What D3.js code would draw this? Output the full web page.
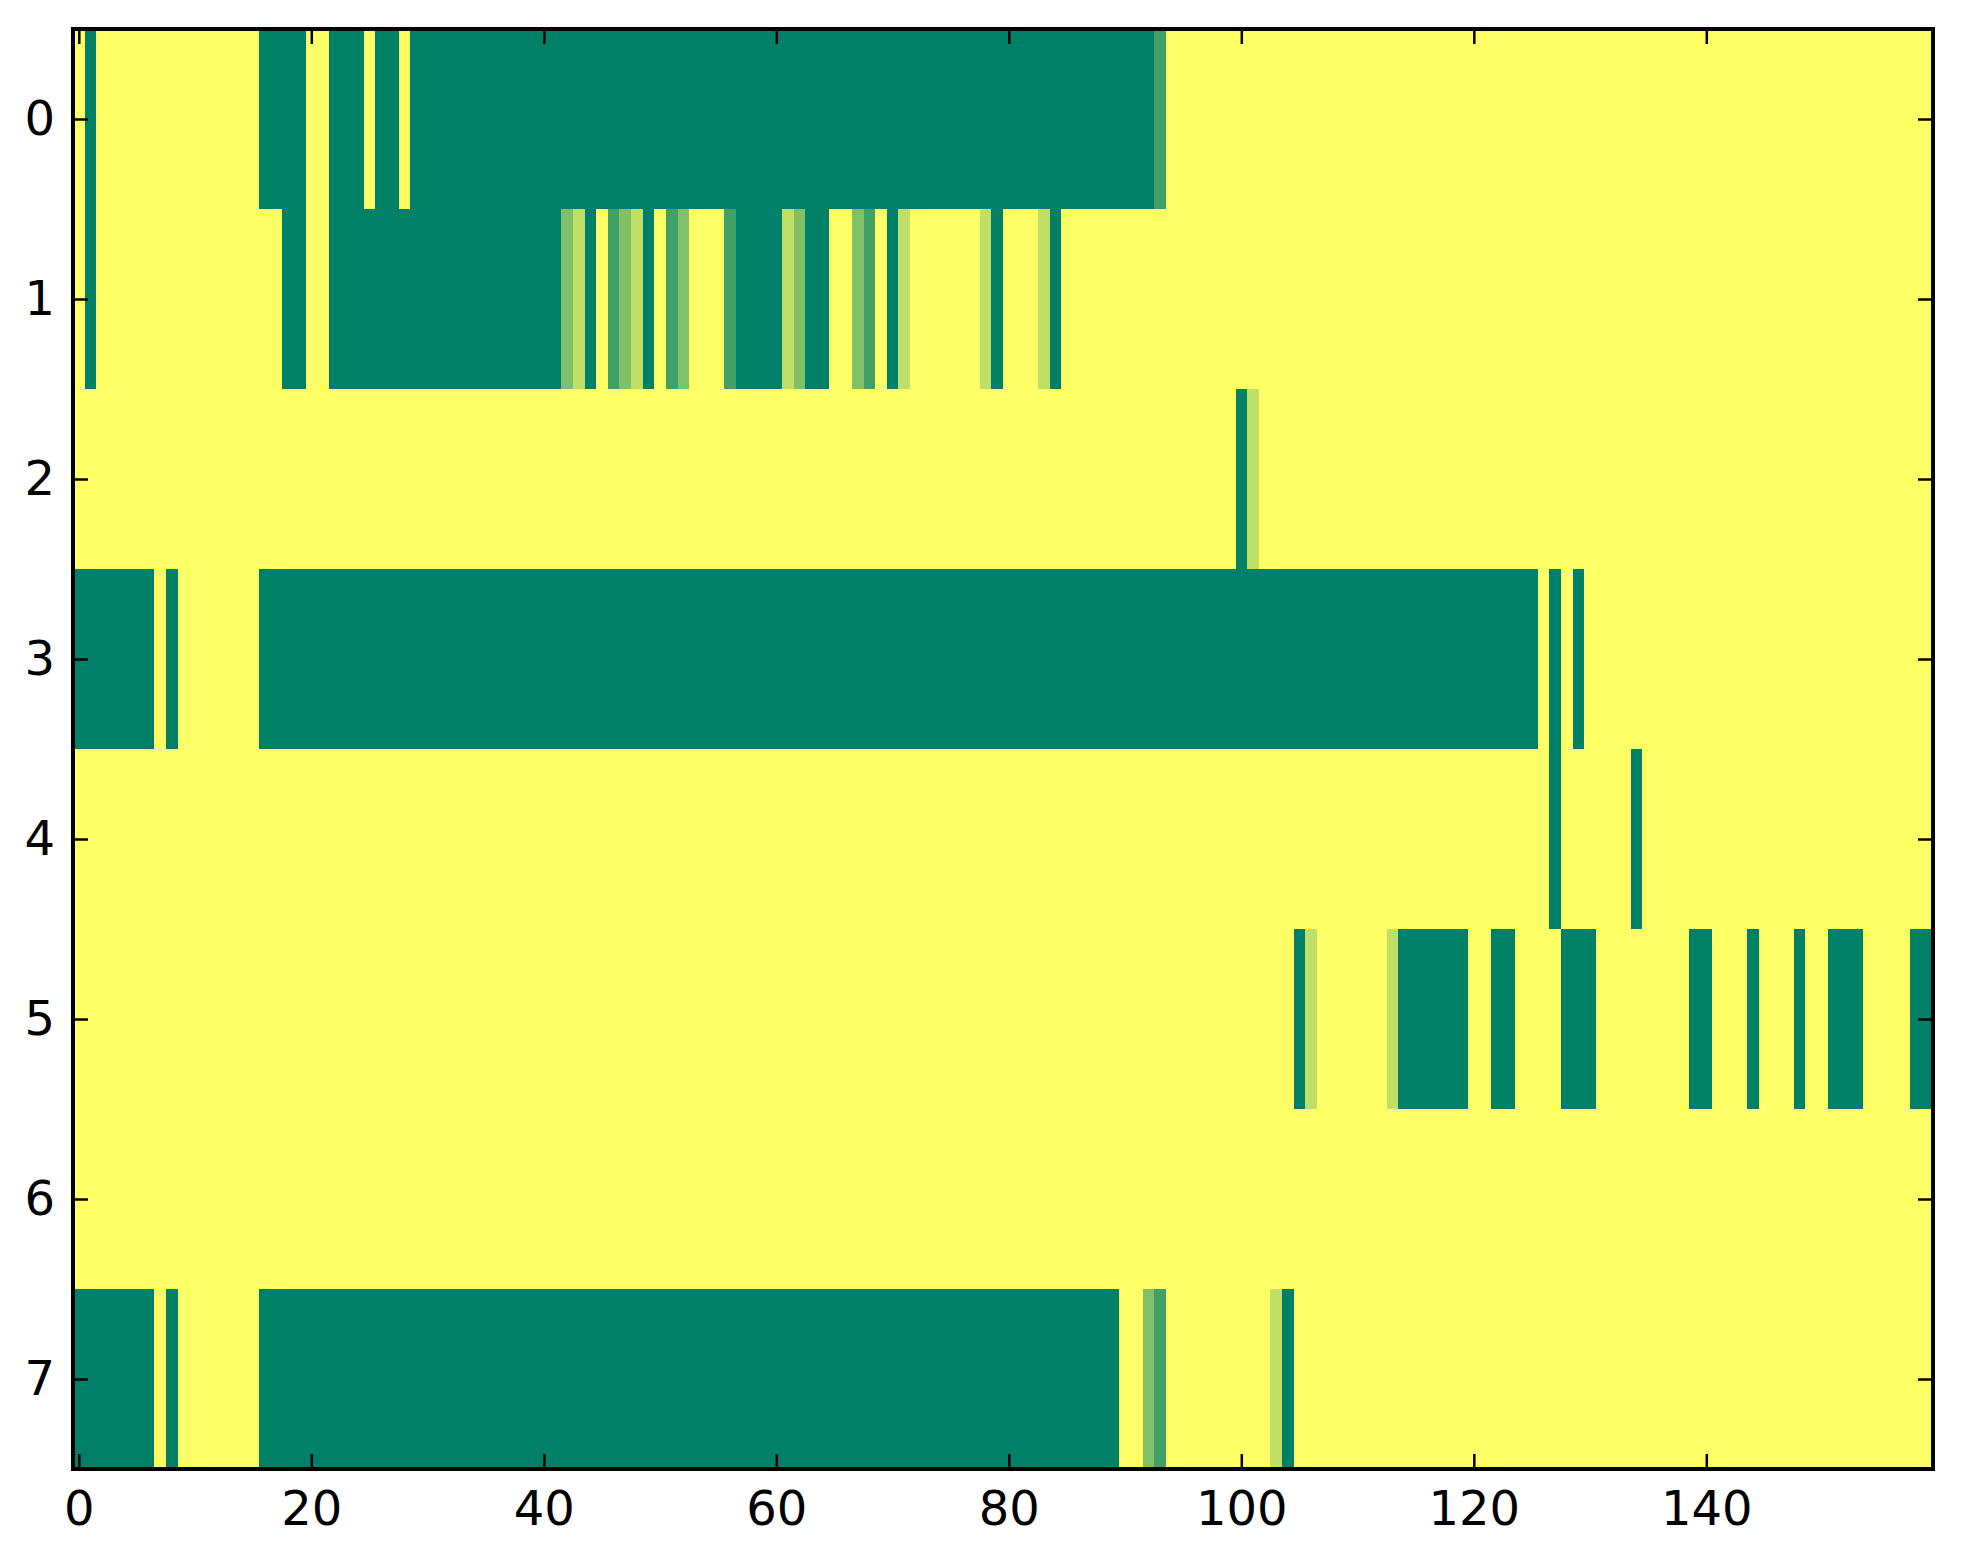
<!DOCTYPE html>
<html>
<head>
<meta charset="utf-8">
<script src="https://cdn.jsdelivr.net/npm/d3@7"></script>
<style>
  body { margin: 0; background: #ffffff; }
  .tick text { font-family: "DejaVu Sans", sans-serif; font-size: 48px; fill: #000; }
  .tick line { stroke: #000; stroke-width: 2.5px; }
</style>
</head>
<body>
<div id="chart"></div>
<script>
// Heatmap rows, run-length: [value, number of columns], 160 columns per row
var row0 = [[1,1],[0,1],[1,14],[0,4],[1,2],[0,3],[1,1],[0,2],[1,1],[0,64],[0.25,1],[1,66]];
var row1 = [[1,1],[0,1],[1,16],[0,2],[1,2],[0,20],[0.5,1],[0.75,1],[0,1],[1,1],[0.25,1],[0.5,1],
            [0.75,1],[0,1],[1,1],[0.25,1],[0.5,1],[1,3],[0.25,1],[0,4],[0.75,1],[0.5,1],[0,2],[1,2],
            [0.5,1],[0.25,1],[1,1],[0,1],[0.75,1],[1,6],[0.75,1],[0,1],[1,3],[0.75,1],[0,1],[1,75]];
var row2 = [[1,100],[0,1],[0.75,1],[1,58]];
var row3 = [[0,7],[1,1],[0,1],[1,7],[0,110],[1,1],[0,1],[1,1],[0,1],[1,30]];
var row4 = [[1,127],[0,1],[1,6],[0,1],[1,25]];
var row5 = [[1,105],[0,1],[0.75,1],[1,6],[0.75,1],[0,6],[1,2],[0,2],[1,4],[0,3],[1,8],[0,2],
            [1,3],[0,1],[1,3],[0,1],[1,2],[0,3],[1,4],[0,2]];
var row6 = [[1,160]];
var row7 = [[0,7],[1,1],[0,1],[1,7],[0,74],[1,2],[0.5,1],[0.25,1],[1,9],[0.75,1],[0,1],[1,55]];

var rows = [row0, row1, row2, row3, row4, row5, row6, row7];
var xTicks = [0, 20, 40, 60, 80, 100, 120, 140];
var yTicks = [0, 1, 2, 3, 4, 5, 6, 7];

// chart area
var svgWidth = 1963;
var svgHeight = 1564;
var margin = { top: 29, right: 30, bottom: 95, left: 73 };
var width = svgWidth - margin.left - margin.right;
var height = svgHeight - margin.top - margin.bottom;

var svg = d3.select("#chart")
    .append("svg")
    .attr("width", svgWidth)
    .attr("height", svgHeight);

svg.append("rect")
    .attr("width", svgWidth)
    .attr("height", svgHeight)
    .attr("fill", "#ffffff");

var chartGroup = svg.append("g")
    .attr("transform", `translate(${margin.left}, ${margin.top})`);

// expand runs into cells
var cells = [];
rows.forEach(function (runs, r) {
    var c = 0;
    runs.forEach(function (run) {
        for (var k = 0; k < run[1]; k++) {
            cells.push({ row: r, col: c, value: run[0] });
            c++;
        }
    });
});

var xScale = d3.scaleLinear().domain([-0.5, 159.5]).range([0, width]);
var yScale = d3.scaleLinear().domain([-0.5, 7.5]).range([0, height]);
// matplotlib "summer": linear from (0, .5, .4) to (1, 1, .4)
var color = d3.scaleLinear().domain([0, 1]).range(["#008066", "#ffff66"]);

chartGroup.append("g")
    .selectAll("rect")
    .data(cells)
    .enter()
    .append("rect")
    .attr("x", d => xScale(d.col - 0.5))
    .attr("y", d => yScale(d.row - 0.5))
    .attr("width", d => xScale(d.col + 0.5) - xScale(d.col - 0.5) + 0.6)
    .attr("height", d => yScale(d.row + 0.5) - yScale(d.row - 0.5) + 0.6)
    .attr("fill", d => color(d.value))
    .attr("shape-rendering", "crispEdges");

// axes, ticks pointing inward
var bottomAxis = d3.axisBottom(xScale).tickValues(xTicks).tickSizeInner(-15).tickSizeOuter(0).tickPadding(22);
var topAxis = d3.axisTop(xScale).tickValues(xTicks).tickSizeInner(-15).tickSizeOuter(0).tickFormat("");
var leftAxis = d3.axisLeft(yScale).tickValues(yTicks).tickSizeInner(-15).tickSizeOuter(0).tickPadding(18);
var rightAxis = d3.axisRight(yScale).tickValues(yTicks).tickSizeInner(-15).tickSizeOuter(0).tickFormat("");

chartGroup.append("g").attr("transform", `translate(0, ${height})`).call(bottomAxis);
chartGroup.append("g").call(topAxis);
chartGroup.append("g").call(leftAxis);
chartGroup.append("g").attr("transform", `translate(${width}, 0)`).call(rightAxis);
chartGroup.selectAll(".domain").remove();

// frame
chartGroup.append("rect")
    .attr("width", width)
    .attr("height", height)
    .attr("fill", "none")
    .attr("stroke", "#000")
    .attr("stroke-width", 4);
</script>
</body>
</html>
